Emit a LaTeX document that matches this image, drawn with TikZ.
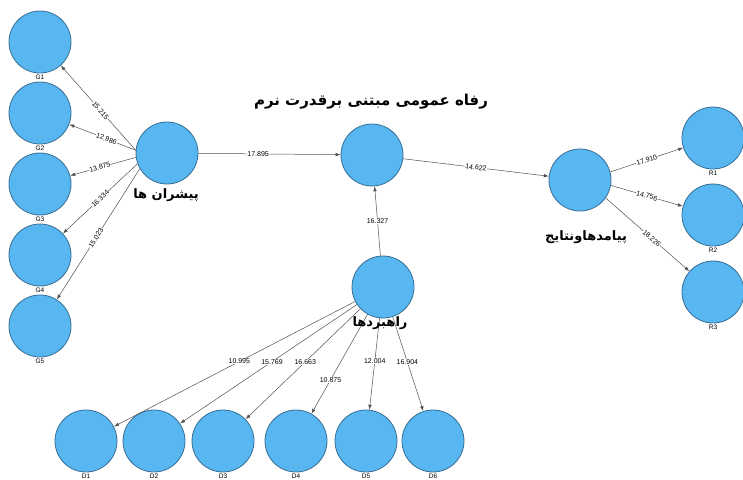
\documentclass[tikz,border=0pt]{standalone}
\usepackage{fontspec}
\setmainfont{Liberation Sans}
\newfontfamily\farsifont[Script=Arabic]{DejaVu Sans}
\TeXXeTstate=1
\usetikzlibrary{arrows.meta,positioning}

\definecolor{circblue}{RGB}{88,182,240}
\definecolor{circborder}{RGB}{55,110,150}
\definecolor{linegray}{RGB}{80,80,80}

\tikzset{
  latent/.style={circle,draw=circborder,fill=circblue,line width=0.8pt,minimum size=62pt,inner sep=0pt},
  conn/.style={draw=linegray,line width=0.5pt,-{Latex[length=5pt,width=3.5pt]}},
  wt/.style={font=\fontsize{7}{7.5}\selectfont,fill=white,inner sep=0.4pt},
  fa/.style={font=\farsifont\bfseries\fontsize{13}{15}\selectfont,inner sep=1pt},
  tag/.style={font=\fontsize{6.5}{7}\selectfont,inner sep=1pt}
}

\begin{document}
\begin{tikzpicture}[x=1pt,y=-1pt]
\useasboundingbox (0,0) rectangle (743,479);

% drivers
\node[latent] (pi) at (167,153) {};
\foreach \i/\y in {1/42,2/113,3/184,4/255,5/326}
  \node[latent,label={[tag]below:G\i}] (g\i) at (40,\y) {};
\foreach \i/\a/\w/\p in {1/175/15.215/0.47,2/175/12.986/0.44,3/188/13.875/0.55,4/200/16.334/0.5,5/210/15.023/0.53}
  \draw[conn] (pi.\a) -- node[wt,sloped,pos=\p] {\w} (g\i);

% welfare, strategies, outcomes
\node[latent] (hub) at (372,155) {};
\node[latent] (rb) at (383,287) {};
\node[latent] (pa) at (580,180) {};

\foreach \i/\x in {1/86,2/154,3/223,4/296,5/366,6/433}
  \node[latent,label={[tag]below:D\i}] (d\i) at (\x,441) {};

\foreach \i/\y in {1/138,2/215,3/292}
  \node[latent,label={[tag]below:R\i}] (r\i) at (713,\y) {};

\draw[conn] (pi) -- node[wt,sloped,pos=0.42] {17.895} (hub);
\draw[conn] (hub) -- node[wt,sloped] {14.622} (pa);
\draw[conn] (rb) -- node[wt] {16.327} (hub);

\foreach \i/\w/\p in {1/10.995/0.48,2/15.769/0.48,3/16.663/0.48,4/10.875/0.66,5/12.004/0.47,6/16.904/0.48}
  \draw[conn] (rb) -- node[wt,pos=\p] {\w} (d\i);

\foreach \i/\a/\w/\p in {1/15/17.910/0.5,2/-10/14.756/0.5,3/-35/18.226/0.55}
  \draw[conn] (pa.\a) -- node[wt,sloped,pos=\p] {\w} (r\i);

% persian titles
\node[fa,font=\farsifont\bfseries\fontsize{15}{17}\selectfont] (hubl) at (371,102) {\beginR رفاه عمومی مبتنی برقدرت نرم\endR};
\node[fa] (pil) at (166,195) {\beginR پیشران ها\endR};
\node[fa] (rbl) at (380,323) {\beginR راهبردها\endR};
\node[fa] (pal) at (586,237) {\beginR پیامدهاونتایج\endR};

\end{tikzpicture}
\end{document}
